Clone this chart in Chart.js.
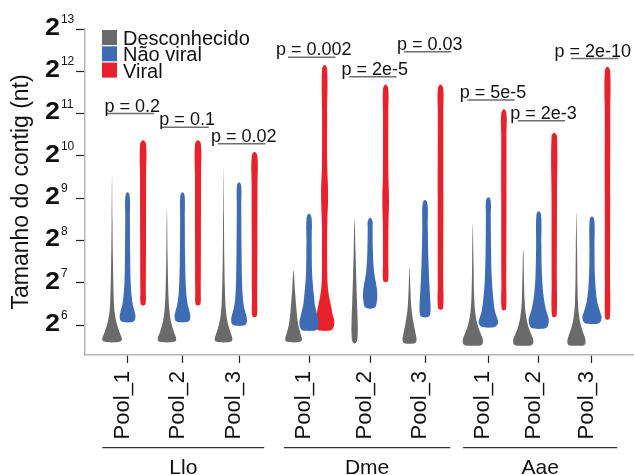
<!DOCTYPE html>
<html>
<head>
<meta charset="utf-8">
<script src="https://cdn.jsdelivr.net/npm/chart.js@4.4.0/dist/chart.umd.min.js"></script>
<style>
  html, body { margin: 0; padding: 0; background: #fff; }
</style>
</head>
<body>
<canvas id="violinChart" width="634" height="475"></canvas>
<script>
/**pool names under each tick */
const pools = ["Pool_1", "Pool_2", "Pool_3", "Pool_1", "Pool_2", "Pool_3", "Pool_1", "Pool_2", "Pool_3"];
/**species groups, three pools each */
const species = ["Llo", "Dme", "Aae"];
/**where each pool sits on the x axis */
const poolPos = [1.03, 2.01, 3.02, 4.27, 5.36, 6.34, 7.47, 8.37, 9.32];
/**series names */
const seriesNames = ["Desconhecido", "Não viral", "Viral"];
/**y ticks, as log2 of contig length */
const yTicks = [6, 7, 8, 9, 10, 11, 12, 13];
/**p values per pool and the log2 level of their bracket */
const pValues = ["0.2", "0.1", "0.02", "0.002", "2e-5", "0.03", "5e-5", "2e-3", "2e-10"];
const pLevels = [11.0, 10.68, 10.29, 12.33, 11.87, 12.46, 11.32, 10.83, 12.3];

/**
 * violins: for each pool, a list of [log2 length, relative width]
 * first and last entries are the min and the max of the violin
 */
const desconhecido = [
    [[5.59, 0], [5.61, 0.8], [5.67, 0.98], [5.83, 0.74], [6.03, 0.47], [6.27, 0.28], [6.5, 0.19], [7.5, 0.09], [8.5, 0.04], [9.54, 0]],
    [[5.59, 0], [5.61, 0.78], [5.67, 0.92], [5.83, 0.7], [6.03, 0.45], [6.27, 0.28], [6.6, 0.17], [7.5, 0.07], [8.76, 0]],
    [[5.59, 0], [5.61, 0.75], [5.67, 0.88], [5.83, 0.68], [6.03, 0.44], [6.27, 0.27], [6.6, 0.17], [7.5, 0.08], [8.6, 0.04], [9.7, 0]],
    [[5.59, 0], [5.61, 0.7], [5.67, 0.83], [5.83, 0.65], [6.03, 0.45], [6.34, 0.3], [6.81, 0.14], [7.29, 0]],
    [[5.56, 0], [5.6, 0.2], [5.75, 0.3], [6.1, 0.3], [6.6, 0.23], [7.05, 0.17], [7.76, 0.09], [8.49, 0]],
    [[5.56, 0], [5.58, 0.55], [5.65, 0.7], [5.8, 0.6], [6.1, 0.36], [6.42, 0.18], [6.9, 0.08], [7.37, 0]],
    [[5.51, 0], [5.53, 0.85], [5.63, 1.0], [5.8, 0.78], [5.94, 0.56], [6.18, 0.31], [6.58, 0.15], [7.6, 0.06], [8.39, 0]],
    [[5.51, 0], [5.53, 0.85], [5.63, 1.0], [5.8, 0.76], [5.94, 0.54], [6.18, 0.3], [6.58, 0.14], [7.78, 0]],
    [[5.51, 0], [5.53, 0.78], [5.63, 0.9], [5.8, 0.7], [5.94, 0.5], [6.18, 0.28], [6.58, 0.14], [7.8, 0.06], [8.67, 0]],
];
const naoViral = [
    [[6.06, 0], [6.09, 0.62], [6.2, 0.78], [6.3, 0.72], [6.48, 0.52], [6.7, 0.4], [7.0, 0.31], [7.6, 0.26], [8.5, 0.23], [9.06, 0.21], [9.14, 0]],
    [[6.06, 0], [6.09, 0.62], [6.2, 0.78], [6.3, 0.72], [6.48, 0.52], [6.7, 0.4], [7.0, 0.32], [7.6, 0.26], [8.5, 0.23], [9.06, 0.21], [9.14, 0]],
    [[5.98, 0], [6.01, 0.62], [6.1, 0.78], [6.22, 0.72], [6.42, 0.5], [6.7, 0.36], [7.1, 0.29], [7.8, 0.25], [8.8, 0.22], [9.3, 0.21], [9.38, 0]],
    [[5.86, 0], [5.89, 0.75], [6.06, 0.96], [6.2, 0.85], [6.45, 0.6], [6.65, 0.5], [7.0, 0.36], [7.3, 0.29], [8.0, 0.26], [8.55, 0.24], [8.63, 0]],
    [[6.38, 0], [6.42, 0.5], [6.55, 0.66], [6.73, 0.71], [6.89, 0.65], [7.29, 0.38], [7.8, 0.27], [8.3, 0.24], [8.46, 0.23], [8.54, 0]],
    [[6.18, 0], [6.21, 0.42], [6.3, 0.53], [6.42, 0.55], [6.89, 0.45], [7.52, 0.34], [8.3, 0.27], [8.88, 0.24], [8.96, 0]],
    [[5.94, 0], [5.97, 0.72], [6.06, 0.96], [6.18, 0.85], [6.34, 0.65], [6.74, 0.45], [7.13, 0.34], [7.8, 0.27], [8.6, 0.24], [8.94, 0.23], [9.02, 0]],
    [[5.91, 0], [5.94, 0.75], [6.1, 1.0], [6.22, 0.9], [6.4, 0.68], [6.75, 0.45], [7.2, 0.32], [7.9, 0.26], [8.61, 0.23], [8.69, 0]],
    [[6.02, 0], [6.05, 0.72], [6.18, 0.95], [6.3, 0.82], [6.58, 0.5], [7.13, 0.3], [7.8, 0.25], [8.49, 0.23], [8.57, 0]],
];
const viral = [
    [[6.46, 0], [6.5, 0.24], [6.8, 0.27], [8.0, 0.29], [9.5, 0.3], [10.28, 0.29], [10.37, 0]],
    [[6.46, 0], [6.5, 0.24], [6.8, 0.27], [8.0, 0.29], [9.5, 0.3], [10.28, 0.29], [10.37, 0]],
    [[6.18, 0], [6.22, 0.23], [6.6, 0.26], [8.0, 0.28], [9.3, 0.29], [10.0, 0.28], [10.09, 0]],
    [[5.86, 0], [5.89, 0.72], [6.06, 0.97], [6.25, 0.8], [6.5, 0.6], [6.65, 0.46], [6.97, 0.3], [7.5, 0.26], [8.4, 0.27], [9.1, 0.35], [9.8, 0.26], [11.0, 0.25], [12.06, 0.25], [12.15, 0]],
    [[7.01, 0], [7.05, 0.24], [7.5, 0.26], [8.4, 0.28], [8.94, 0.33], [9.6, 0.27], [11.0, 0.26], [11.6, 0.25], [11.69, 0]],
    [[6.36, 0], [6.4, 0.25], [7.0, 0.27], [9.0, 0.28], [11.0, 0.27], [11.6, 0.26], [11.69, 0]],
    [[6.34, 0], [6.38, 0.22], [7.0, 0.24], [9.0, 0.26], [10.5, 0.26], [11.01, 0.25], [11.1, 0]],
    [[6.18, 0], [6.22, 0.23], [7.0, 0.26], [9.0, 0.27], [10.46, 0.27], [10.55, 0]],
    [[6.12, 0], [6.16, 0.23], [7.0, 0.26], [9.0, 0.27], [11.0, 0.27], [12.02, 0.26], [12.11, 0]],
];

const SERIES = [desconhecido, naoViral, viral];
const COLORS = ["#6a6a6a", "#3e6cb4", "#e8222d"];
/**side shift of each series inside a pool, x units */
const DODGE = [-0.277, 0, 0.277];
/**half width of a violin at relative width 1, x units */
const HALF_W = 0.18;
/**p value bracket, relative to the pool */
const BRACKET = [-0.375, 0.47];
const FONT = '"Liberation Sans", Arial, sans-serif';

/**
 * closed outline of one violin: right side up, left side down
 * @param {number} centre x of the violin
 * @param {Array} knots [log2 length, relative width] pairs
 */
function violinOutline(centre, knots) {
    const right = knots.map(([v, d]) => ({ x: centre + d * HALF_W, y: v }));
    const left = knots.slice(1, -1).reverse().map(([v, d]) => ({ x: centre - d * HALF_W, y: v }));
    return right.concat(left, [right[0]]);
}

const datasets = [];
SERIES.forEach((series, s) => {
    series.forEach((knots, p) => {
        datasets.push({
            label: seriesNames[s],
            data: violinOutline(poolPos[p] + DODGE[s], knots),
            showLine: true,
            fill: "shape",
            backgroundColor: COLORS[s],
            borderColor: COLORS[s],
            borderWidth: 0,
            pointRadius: 0,
            tension: 0.4,
        });
    });
});

/**tick labels as powers of two, legend, p values and species groups */
const decorations = {
    id: "decorations",
    afterDraw(chart) {
        const ctx = chart.ctx;
        const xs = chart.scales.x;
        const ys = chart.scales.y;
        const area = chart.chartArea;
        ctx.save();
        ctx.fillStyle = "#111";
        ctx.textBaseline = "alphabetic";

        // y tick labels: 2 with exponent
        yTicks.forEach((v) => {
            const py = ys.getPixelForValue(v);
            const lx = area.left - 40;
            ctx.font = "bold 24px " + FONT;
            ctx.textAlign = "left";
            const w = ctx.measureText("2").width * 1.12;
            ctx.save();
            ctx.translate(lx, py + 5.7);
            ctx.scale(1.12, 1);
            ctx.fillText("2", 0, 0);
            ctx.restore();
            ctx.font = "12px " + FONT;
            ctx.fillText(String(v), lx + w + 1, py - 6);
        });

        // legend
        seriesNames.forEach((name, i) => {
            const top = area.top + 1 + i * 16.3;
            ctx.fillStyle = COLORS[i];
            ctx.fillRect(area.left + 17, top, 15, 15);
            ctx.fillStyle = "#111";
            ctx.font = "20px " + FONT;
            ctx.textAlign = "left";
            ctx.fillText(name, area.left + 38, top + 15);
        });

        // p values
        ctx.strokeStyle = "#6e6e6e";
        ctx.lineWidth = 1.5;
        ctx.font = "18px " + FONT;
        ctx.textAlign = "center";
        pLevels.forEach((lv, i) => {
            const x1 = xs.getPixelForValue(poolPos[i] + BRACKET[0]);
            const x2 = xs.getPixelForValue(poolPos[i] + BRACKET[1]);
            const py = ys.getPixelForValue(lv);
            ctx.beginPath();
            ctx.moveTo(x1, py);
            ctx.lineTo(x2, py);
            ctx.stroke();
            const label = "p = " + pValues[i];
            const half = ctx.measureText(label).width / 2;
            const tx = Math.min((x1 + x2) / 2 + 2, chart.width - half - 3);
            ctx.fillText(label, tx, py - 2);
        });

        // species groups
        ctx.strokeStyle = "#333";
        ctx.lineWidth = 1.2;
        species.forEach((name, g) => {
            const x1 = xs.getPixelForValue(poolPos[g * 3] - 0.45);
            const x2 = xs.getPixelForValue(poolPos[g * 3 + 2] + 0.45);
            const ly = area.bottom + 92.7;
            ctx.beginPath();
            ctx.moveTo(x1, ly);
            ctx.lineTo(x2, ly);
            ctx.stroke();
            ctx.font = "21px " + FONT;
            ctx.textAlign = "center";
            ctx.fillText(name, (x1 + x2) / 2, area.bottom + 119);
        });
        ctx.restore();
    },
};

const ctx = document.getElementById("violinChart").getContext("2d");
const violinChart = new Chart(ctx, {
    type: "scatter",
    data: { datasets: datasets },
    options: {
        responsive: false,
        animation: false,
        events: [],
        layout: { padding: { left: 0, right: 0, top: 29, bottom: 27.6 } },
        plugins: { legend: { display: false }, tooltip: { enabled: false } },
        scales: {
            x: {
                type: "linear",
                min: 0.27,
                max: 10.07,
                afterBuildTicks: (s) => { s.ticks = poolPos.map((v) => ({ value: v })); },
                ticks: {
                    autoSkip: false,
                    minRotation: 90,
                    maxRotation: 90,
                    padding: 8,
                    labelOffset: -5,
                    color: "#111",
                    font: { family: FONT, size: 22 },
                    callback: (v, i) => pools[i],
                },
                grid: { drawOnChartArea: false, drawTicks: true, tickLength: 8, tickColor: "#222", tickWidth: 1.2 },
                border: { display: true, color: "#b5b5b5", width: 1.5 },
            },
            y: {
                type: "linear",
                min: 5.296,
                max: 13,
                afterBuildTicks: (s) => { s.ticks = yTicks.map((v) => ({ value: v })); },
                ticks: { display: false },
                grid: { drawOnChartArea: false, drawTicks: true, tickLength: 9, tickColor: "#222", tickWidth: 1.2 },
                border: { display: true, color: "#b5b5b5", width: 1.5 },
                title: {
                    display: true,
                    text: "Tamanho do contig (nt)",
                    color: "#111",
                    font: { family: FONT, size: 23 },
                    padding: { top: 8, bottom: 40.4 },
                },
            },
        },
    },
    plugins: [decorations],
});
</script>
</body>
</html>
